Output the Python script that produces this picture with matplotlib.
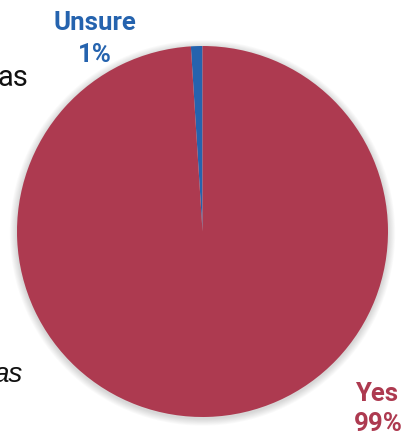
import matplotlib
matplotlib.use("Agg")
import matplotlib.pyplot as plt
from matplotlib.patches import Circle

categories = ["Unsure", "Yes"]
shares = [1, 99]
colors = ["#2563AE", "#AD3A50"]

W, H = 411, 434
fig = plt.figure(figsize=(W / 100, H / 100), dpi=100)
ax = fig.add_axes([0, 0, 1, 1])

cx, cy, r = 202.5, H - 231.5, 185.5

# soft drop shadow behind the pie
for k in range(8, 0, -1):
    ax.add_patch(Circle((cx, cy - 1.5), r + k * 0.9, color="#000000",
                        alpha=0.018, lw=0, zorder=0))

ax.pie(shares, colors=colors, startangle=90, counterclock=True,
       center=(cx, cy), radius=r, frame=True,
       wedgeprops=dict(linewidth=0))
ax.set_xlim(0, W)
ax.set_ylim(0, H)
ax.set_aspect("equal")
ax.axis("off")

font = ["Roboto", "DejaVu Sans"]
lab = dict(fontsize=18.5, fontweight="bold", family=font,
           ha="center", va="center")
ax.text(95, H - 23, categories[0], color=colors[0], **lab)
ax.text(95, H - 55, f"{shares[0]}%", color=colors[0], **lab)
ax.text(377, H - 394, categories[1], color=colors[1], **lab)
ax.text(378, H - 424, f"{shares[1]}%", color=colors[1], **lab)

# tails of side captions running off the left edge
ax.text(28, H - 86, "as", color="#111111", fontsize=21, family=font,
        ha="right", va="baseline")
ax.text(23, H - 382, "as", color="#111111", fontsize=20,
        family=["Liberation Sans", "DejaVu Sans"],
        style="italic", ha="right", va="baseline")

fig.savefig("out.png", dpi=100)
